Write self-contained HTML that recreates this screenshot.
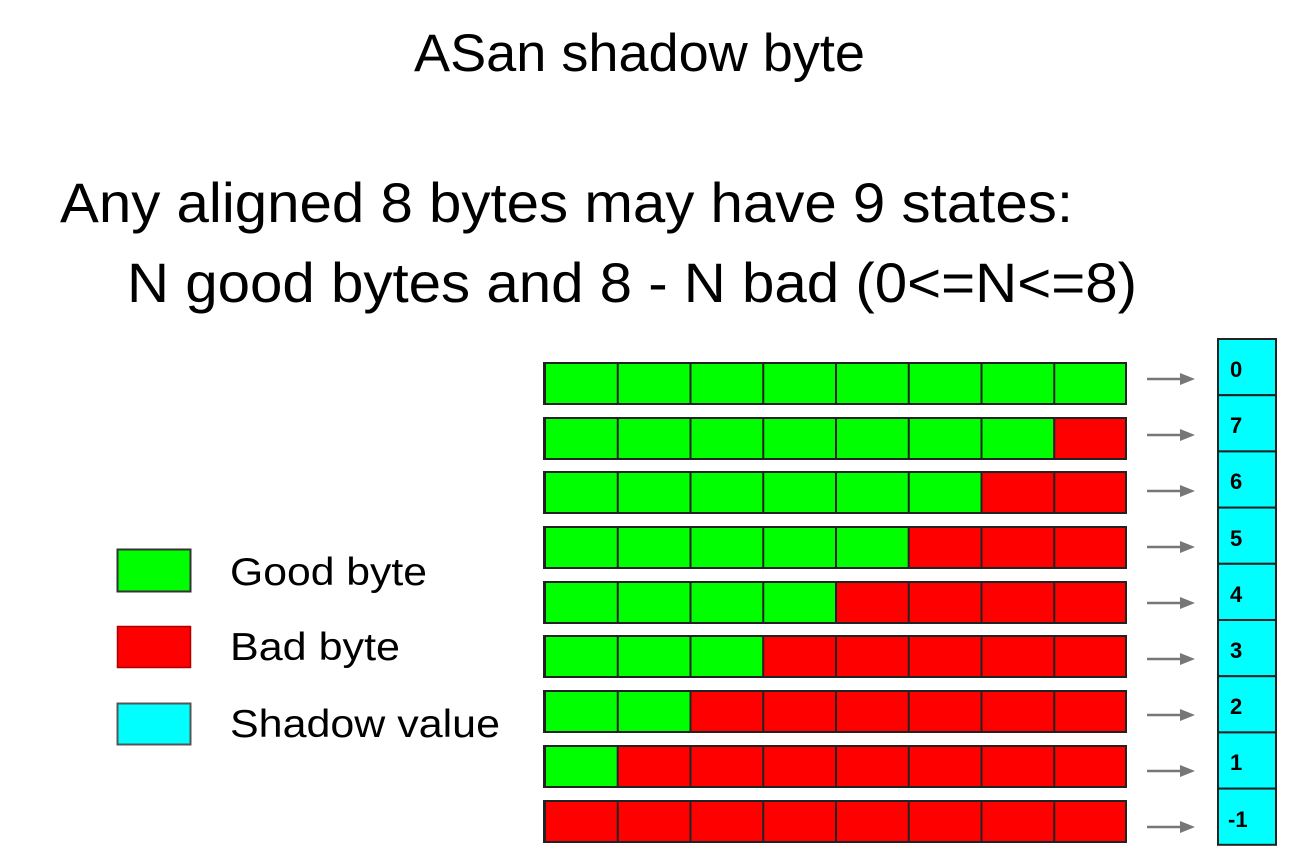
<!DOCTYPE html>
<html><head><meta charset="utf-8"><style>
html,body{margin:0;padding:0;background:#fff;width:1293px;height:868px;overflow:hidden}
svg{display:block}
text{font-family:"Liberation Sans",sans-serif;fill:#000}
.l{font-size:22px;font-weight:bold}
</style></head><body>
<svg width="1293" height="868" viewBox="0 0 1293 868" xmlns="http://www.w3.org/2000/svg">
<defs>
<pattern id="p" patternUnits="userSpaceOnUse" x="544" y="0" width="72.75" height="868">
<rect x="0" y="0" width="2" height="868" fill="#222"/>
</pattern>
</defs>
<text x="414" y="71" font-size="53" textLength="451" lengthAdjust="spacingAndGlyphs">ASan shadow byte</text>
<text x="60" y="222" font-size="56" textLength="1013" lengthAdjust="spacingAndGlyphs">Any aligned 8 bytes may have 9 states:</text>
<text x="127" y="302" font-size="56" textLength="1010" lengthAdjust="spacingAndGlyphs">N good bytes and 8 - N bad (0&lt;=N&lt;=8)</text>

<rect x="117.5" y="549.5" width="73" height="42" fill="#00ff00" stroke="#333" stroke-width="2"/>
<rect x="117.5" y="626.5" width="73" height="41" fill="#ff0000" stroke="#a00" stroke-width="1.5"/>
<rect x="117.5" y="703.5" width="73" height="41" fill="#00ffff" stroke="#555" stroke-width="2"/>
<text x="230" y="585" font-size="39" textLength="197" lengthAdjust="spacingAndGlyphs">Good byte</text>
<text x="230" y="660" font-size="39" textLength="170" lengthAdjust="spacingAndGlyphs">Bad byte</text>
<text x="230" y="737" font-size="39" textLength="270" lengthAdjust="spacingAndGlyphs">Shadow value</text>

<g>
<rect x="544" y="363" width="582" height="41" fill="#00ff00"/>
<rect x="544" y="418" width="582" height="41" fill="#ff0000"/><rect x="544" y="418" width="509.25" height="41" fill="#00ff00"/>
<rect x="544" y="472" width="582" height="41" fill="#ff0000"/><rect x="544" y="472" width="436.5" height="41" fill="#00ff00"/>
<rect x="544" y="527" width="582" height="41" fill="#ff0000"/><rect x="544" y="527" width="363.75" height="41" fill="#00ff00"/>
<rect x="544" y="582" width="582" height="41" fill="#ff0000"/><rect x="544" y="582" width="291" height="41" fill="#00ff00"/>
<rect x="544" y="636" width="582" height="41" fill="#ff0000"/><rect x="544" y="636" width="218.25" height="41" fill="#00ff00"/>
<rect x="544" y="691" width="582" height="41" fill="#ff0000"/><rect x="544" y="691" width="145.5" height="41" fill="#00ff00"/>
<rect x="544" y="746" width="582" height="41" fill="#ff0000"/><rect x="544" y="746" width="72.75" height="41" fill="#00ff00"/>
<rect x="544" y="801" width="582" height="41" fill="#ff0000"/>
</g>
<g fill="url(#p)" stroke="#222" stroke-width="2">
<rect x="544" y="363" width="582" height="41"/>
<rect x="544" y="418" width="582" height="41"/>
<rect x="544" y="472" width="582" height="41"/>
<rect x="544" y="527" width="582" height="41"/>
<rect x="544" y="582" width="582" height="41"/>
<rect x="544" y="636" width="582" height="41"/>
<rect x="544" y="691" width="582" height="41"/>
<rect x="544" y="746" width="582" height="41"/>
<rect x="544" y="801" width="582" height="41"/>
</g>

<g fill="#00ffff" stroke="#222" stroke-width="2">
<rect x="1218" y="339" width="58" height="56.2"/>
<rect x="1218" y="395.2" width="58" height="56.2"/>
<rect x="1218" y="451.4" width="58" height="56.2"/>
<rect x="1218" y="507.6" width="58" height="56.2"/>
<rect x="1218" y="563.8" width="58" height="56.2"/>
<rect x="1218" y="620" width="58" height="56.2"/>
<rect x="1218" y="676.2" width="58" height="56.2"/>
<rect x="1218" y="732.4" width="58" height="56.2"/>
<rect x="1218" y="788.6" width="58" height="56.2"/>
</g>
<text class="l" x="1230" y="377">0</text>
<text class="l" x="1230" y="433">7</text>
<text class="l" x="1230" y="489">6</text>
<text class="l" x="1230" y="546">5</text>
<text class="l" x="1230" y="602">4</text>
<text class="l" x="1230" y="658">3</text>
<text class="l" x="1230" y="714">2</text>
<text class="l" x="1230" y="770">1</text>
<text class="l" x="1228" y="827">-1</text>

<g stroke="#777" stroke-width="2.5">
<line x1="1147" y1="379" x2="1182" y2="379"/>
<line x1="1147" y1="435" x2="1182" y2="435"/>
<line x1="1147" y1="491" x2="1182" y2="491"/>
<line x1="1147" y1="547" x2="1182" y2="547"/>
<line x1="1147" y1="603" x2="1182" y2="603"/>
<line x1="1147" y1="659" x2="1182" y2="659"/>
<line x1="1147" y1="715" x2="1182" y2="715"/>
<line x1="1147" y1="771" x2="1182" y2="771"/>
<line x1="1147" y1="827" x2="1182" y2="827"/>
</g>
<g fill="#777">
<polygon points="1180,373 1195,379 1180,385"/>
<polygon points="1180,429 1195,435 1180,441"/>
<polygon points="1180,485 1195,491 1180,497"/>
<polygon points="1180,541 1195,547 1180,553"/>
<polygon points="1180,597 1195,603 1180,609"/>
<polygon points="1180,653 1195,659 1180,665"/>
<polygon points="1180,709 1195,715 1180,721"/>
<polygon points="1180,765 1195,771 1180,777"/>
<polygon points="1180,821 1195,827 1180,833"/>
</g>
</svg>
</body></html>
